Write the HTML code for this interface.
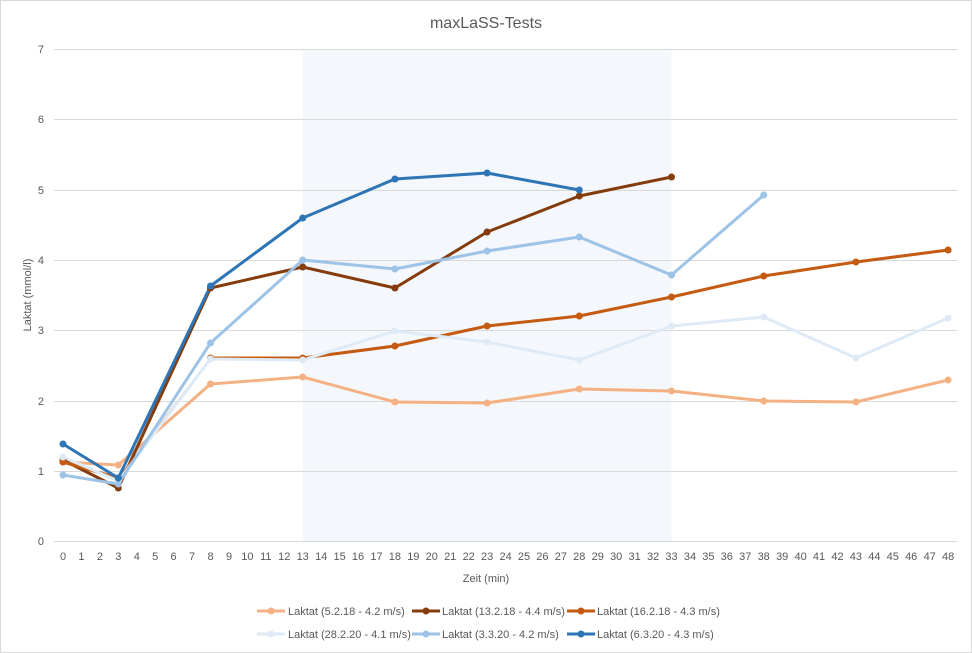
<!DOCTYPE html>
<html><head><meta charset="utf-8"><style>
body{margin:0;background:#fff}
svg{display:block;font-family:"Liberation Sans",sans-serif}
</style></head><body>
<svg width="972" height="653" viewBox="0 0 972 653" xmlns="http://www.w3.org/2000/svg">
<rect x="0.5" y="0.5" width="971" height="652" fill="#fff" stroke="#d9d9d9"/>
<text x="486" y="28" text-anchor="middle" font-size="16" fill="#595959">maxLaSS-Tests</text>
<rect x="302.7" y="49" width="368.8" height="492" fill="#f4f7fb"/>
<g stroke="#d9d9d9" stroke-width="1">
<line x1="54" x2="957" y1="49.5" y2="49.5"/><line x1="54" x2="957" y1="119.5" y2="119.5"/>
<line x1="54" x2="957" y1="190.5" y2="190.5"/><line x1="54" x2="957" y1="260.5" y2="260.5"/>
<line x1="54" x2="957" y1="330.5" y2="330.5"/><line x1="54" x2="957" y1="401.5" y2="401.5"/>
<line x1="54" x2="957" y1="471.5" y2="471.5"/><line x1="54" x2="957" y1="541.5" y2="541.5"/>
</g>
<g font-size="11" fill="#595959" text-anchor="end">
<text x="44" y="545">0</text><text x="44" y="475">1</text><text x="44" y="405">2</text><text x="44" y="334">3</text>
<text x="44" y="264">4</text><text x="44" y="194">5</text><text x="44" y="123">6</text><text x="44" y="53">7</text>
</g>
<g font-size="11" fill="#595959" text-anchor="middle">
<text x="63" y="560">0</text><text x="81.4" y="560">1</text><text x="99.9" y="560">2</text><text x="118.3" y="560">3</text><text x="136.8" y="560">4</text><text x="155.2" y="560">5</text><text x="173.6" y="560">6</text><text x="192.1" y="560">7</text><text x="210.5" y="560">8</text><text x="229" y="560">9</text><text x="247.4" y="560">10</text><text x="265.8" y="560">11</text><text x="284.3" y="560">12</text><text x="302.7" y="560">13</text><text x="321.2" y="560">14</text><text x="339.6" y="560">15</text><text x="358" y="560">16</text><text x="376.5" y="560">17</text><text x="394.9" y="560">18</text><text x="413.4" y="560">19</text><text x="431.8" y="560">20</text><text x="450.2" y="560">21</text><text x="468.7" y="560">22</text><text x="487.1" y="560">23</text><text x="505.6" y="560">24</text><text x="524" y="560">25</text><text x="542.4" y="560">26</text><text x="560.9" y="560">27</text><text x="579.3" y="560">28</text><text x="597.8" y="560">29</text><text x="616.2" y="560">30</text><text x="634.6" y="560">31</text><text x="653.1" y="560">32</text><text x="671.5" y="560">33</text><text x="690" y="560">34</text><text x="708.4" y="560">35</text><text x="726.8" y="560">36</text><text x="745.3" y="560">37</text><text x="763.7" y="560">38</text><text x="782.2" y="560">39</text><text x="800.6" y="560">40</text><text x="819" y="560">41</text><text x="837.5" y="560">42</text><text x="855.9" y="560">43</text><text x="874.4" y="560">44</text><text x="892.8" y="560">45</text><text x="911.2" y="560">46</text><text x="929.7" y="560">47</text><text x="948.1" y="560">48</text>
</g>
<text x="486" y="582" text-anchor="middle" font-size="11" fill="#595959">Zeit (min)</text>
<text transform="translate(31,295) rotate(-90)" text-anchor="middle" font-size="11" fill="#595959">Laktat (mmol/l)</text>
<g fill="none" stroke-width="3" stroke-linejoin="round">
<polyline stroke="#F4B183" points="63,462 118.3,465 210.5,384 302.7,377 394.9,402 487.1,403 579.3,389 671.5,391 763.7,401 855.9,402 948.1,380"/>
<polyline stroke="#843C0C" points="63,460 118.3,488 210.5,288 302.7,267 394.9,288 487.1,232 579.3,196 671.5,177"/>
<polyline stroke="#C55A11" points="63,462 118.3,478"/>
<polyline stroke="#C55A11" stroke-width="1" points="118.3,478 210.5,358"/>
<polyline stroke="#C55A11" points="210.5,358 302.7,358 394.9,346 487.1,326 579.3,316 671.5,297 763.7,276 855.9,262 948.1,250"/>
<polyline stroke="#DEEBF7" points="63,457 118.3,481 210.5,359 302.7,360 394.9,331 487.1,342 579.3,360 671.5,326 763.7,317 855.9,358 948.1,318"/>
<polyline stroke="#9DC3E6" points="63,475 118.3,484 210.5,343 302.7,260 394.9,269 487.1,251 579.3,237 671.5,275 763.7,195"/>
<polyline stroke="#2E75B6" points="63,444 118.3,478 210.5,286 302.7,218 394.9,179 487.1,173 579.3,190"/>
</g>
<g fill="#F4B183"><circle cx="63" cy="462" r="3.5"/><circle cx="118.3" cy="465" r="3.5"/><circle cx="210.5" cy="384" r="3.5"/><circle cx="302.7" cy="377" r="3.5"/><circle cx="394.9" cy="402" r="3.5"/><circle cx="487.1" cy="403" r="3.5"/><circle cx="579.3" cy="389" r="3.5"/><circle cx="671.5" cy="391" r="3.5"/><circle cx="763.7" cy="401" r="3.5"/><circle cx="855.9" cy="402" r="3.5"/><circle cx="948.1" cy="380" r="3.5"/></g>
<g fill="#843C0C"><circle cx="63" cy="460" r="3.5"/><circle cx="118.3" cy="488" r="3.5"/><circle cx="210.5" cy="288" r="3.5"/><circle cx="302.7" cy="267" r="3.5"/><circle cx="394.9" cy="288" r="3.5"/><circle cx="487.1" cy="232" r="3.5"/><circle cx="579.3" cy="196" r="3.5"/><circle cx="671.5" cy="177" r="3.5"/></g>
<g fill="#C55A11"><circle cx="63" cy="462" r="3.5"/><circle cx="118.3" cy="478" r="3.5"/><circle cx="210.5" cy="358" r="3.5"/><circle cx="302.7" cy="358" r="3.5"/><circle cx="394.9" cy="346" r="3.5"/><circle cx="487.1" cy="326" r="3.5"/><circle cx="579.3" cy="316" r="3.5"/><circle cx="671.5" cy="297" r="3.5"/><circle cx="763.7" cy="276" r="3.5"/><circle cx="855.9" cy="262" r="3.5"/><circle cx="948.1" cy="250" r="3.5"/></g>
<g fill="#DEEBF7"><circle cx="63" cy="457" r="3.5"/><circle cx="118.3" cy="481" r="3.5"/><circle cx="210.5" cy="359" r="3.5"/><circle cx="302.7" cy="360" r="3.5"/><circle cx="394.9" cy="331" r="3.5"/><circle cx="487.1" cy="342" r="3.5"/><circle cx="579.3" cy="360" r="3.5"/><circle cx="671.5" cy="326" r="3.5"/><circle cx="763.7" cy="317" r="3.5"/><circle cx="855.9" cy="358" r="3.5"/><circle cx="948.1" cy="318" r="3.5"/></g>
<g fill="#9DC3E6"><circle cx="63" cy="475" r="3.5"/><circle cx="118.3" cy="484" r="3.5"/><circle cx="210.5" cy="343" r="3.5"/><circle cx="302.7" cy="260" r="3.5"/><circle cx="394.9" cy="269" r="3.5"/><circle cx="487.1" cy="251" r="3.5"/><circle cx="579.3" cy="237" r="3.5"/><circle cx="671.5" cy="275" r="3.5"/><circle cx="763.7" cy="195" r="3.5"/></g>
<g fill="#2E75B6"><circle cx="63" cy="444" r="3.5"/><circle cx="118.3" cy="478" r="3.5"/><circle cx="210.5" cy="286" r="3.5"/><circle cx="302.7" cy="218" r="3.5"/><circle cx="394.9" cy="179" r="3.5"/><circle cx="487.1" cy="173" r="3.5"/><circle cx="579.3" cy="190" r="3.5"/></g>
<g font-size="11" fill="#595959">
<line x1="257" x2="285" y1="611" y2="611" stroke="#F4B183" stroke-width="3"/><circle cx="271" cy="611" r="3.5" fill="#F4B183"/><text x="288" y="615">Laktat (5.2.18 - 4.2 m/s)</text>
<line x1="412" x2="440" y1="611" y2="611" stroke="#843C0C" stroke-width="3"/><circle cx="426" cy="611" r="3.5" fill="#843C0C"/><text x="442" y="615">Laktat (13.2.18 - 4.4 m/s)</text>
<line x1="567" x2="595" y1="611" y2="611" stroke="#C55A11" stroke-width="3"/><circle cx="581" cy="611" r="3.5" fill="#C55A11"/><text x="597" y="615">Laktat (16.2.18 - 4.3 m/s)</text>
<line x1="257" x2="285" y1="634" y2="634" stroke="#DEEBF7" stroke-width="3"/><circle cx="271" cy="634" r="3.5" fill="#DEEBF7"/><text x="288" y="638">Laktat (28.2.20 - 4.1 m/s)</text>
<line x1="412" x2="440" y1="634" y2="634" stroke="#9DC3E6" stroke-width="3"/><circle cx="426" cy="634" r="3.5" fill="#9DC3E6"/><text x="442" y="638">Laktat (3.3.20 - 4.2 m/s)</text>
<line x1="567" x2="595" y1="634" y2="634" stroke="#2E75B6" stroke-width="3"/><circle cx="581" cy="634" r="3.5" fill="#2E75B6"/><text x="597" y="638">Laktat (6.3.20 - 4.3 m/s)</text>
</g>
</svg>
</body></html>
